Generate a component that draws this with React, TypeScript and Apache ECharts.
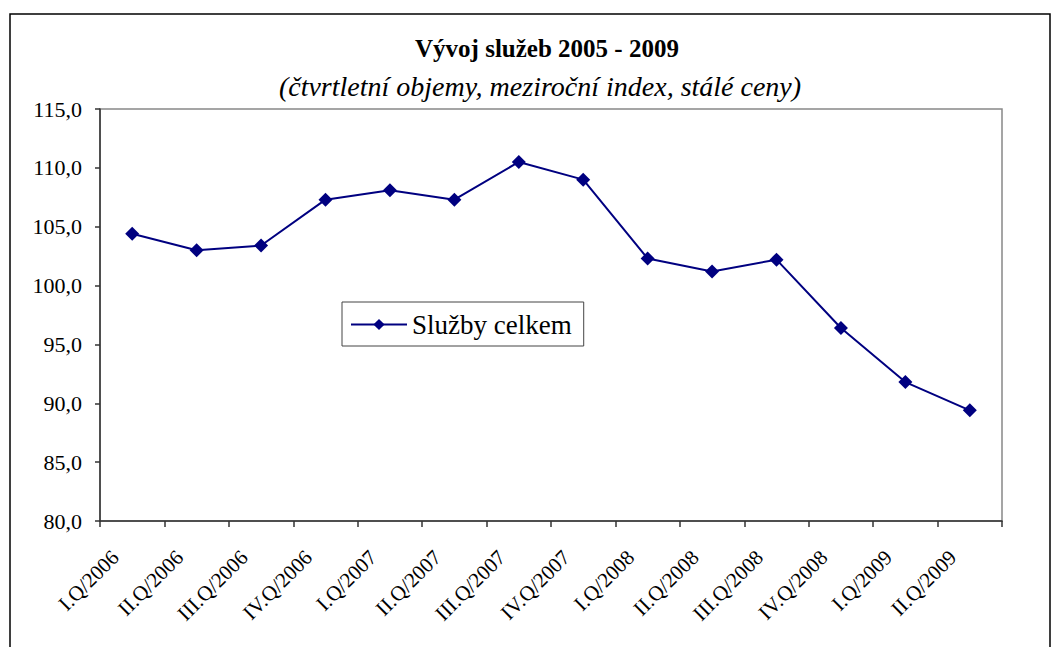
import React, { useEffect, useRef } from "react";
import * as echarts from "echarts";

const categories = [
  "I.Q/2006", "II.Q/2006", "III.Q/2006", "IV.Q/2006",
  "I.Q/2007", "II.Q/2007", "III.Q/2007", "IV.Q/2007",
  "I.Q/2008", "II.Q/2008", "III.Q/2008", "IV.Q/2008",
  "I.Q/2009", "II.Q/2009",
];
const sluzbyCelkem = [104.4, 103.0, 103.4, 107.3, 108.1, 107.3, 110.5, 109.0, 102.3, 101.2, 102.2, 96.4, 91.8, 89.4];
const seriesName = "Služby celkem";
const titleText = "Vývoj služeb 2005 - 2009";
const subtitleText = "(čtvrtletní objemy, meziroční index, stálé ceny)";

const FONT = "'Liberation Serif', 'Times New Roman', serif";

export default function App() {
  const ref = useRef<HTMLDivElement>(null);
  useEffect(() => {
    if (!ref.current) return;
    const chart = echarts.init(ref.current, undefined, { renderer: "svg" });
    chart.setOption({
      animation: false,
      backgroundColor: "#fff",
      title: [
        {
          text: titleText,
          left: 542,
          top: 31,
          textAlign: "center",
          textStyle: { fontFamily: FONT, fontSize: 25, fontWeight: "bold", color: "#000" },
        },
        {
          text: subtitleText,
          left: 535,
          top: 67,
          textAlign: "center",
          textStyle: { fontFamily: FONT, fontSize: 28, fontStyle: "italic", fontWeight: "normal", color: "#000" },
        },
      ],
      graphic: [
        {
          type: "rect",
          shape: { x: 10, y: 14, width: 1040, height: 700 },
          style: { fill: "none", stroke: "#000", lineWidth: 1.5 },
          silent: true,
        },
      ],
      legend: {
        left: 342,
        top: 302,
        orient: "vertical",
        borderColor: "#444",
        borderWidth: 1,
        padding: [9, 12, 8, 8],
        itemWidth: 56,
        itemHeight: 14,
        itemGap: 0,
        textStyle: { fontFamily: FONT, fontSize: 27, color: "#000" },
        data: [seriesName],
      },
      grid: { left: 100, right: 61, top: 109, bottom: 126, show: true, borderColor: "#888", borderWidth: 1.5 },
      xAxis: {
        type: "category",
        data: categories,
        boundaryGap: true,
        axisLine: { lineStyle: { color: "#333", width: 1.5 } },
        axisTick: { show: true, length: 6, alignWithLabel: false, lineStyle: { color: "#333", width: 1.5 } },
        axisLabel: {
          rotate: 45,
          interval: 0,
          fontFamily: FONT,
          fontSize: 21,
          color: "#000",
          margin: 16,
          padding: [0, 24, 0, 0],
        },
        splitLine: { show: false },
      },
      yAxis: {
        type: "value",
        min: 80,
        max: 115,
        interval: 5,
        axisLine: { show: true, lineStyle: { color: "#333", width: 1.5 } },
        axisTick: { show: true, length: 5, lineStyle: { color: "#333", width: 1.5 } },
        axisLabel: {
          fontFamily: FONT,
          fontSize: 22,
          color: "#000",
          margin: 18,
          formatter: (v: number) => v.toFixed(1).replace(".", ","),
        },
        splitLine: { show: false },
      },
      series: [
        {
          name: seriesName,
          type: "line",
          data: sluzbyCelkem,
          symbol: "diamond",
          symbolSize: 14,
          lineStyle: { color: "#000080", width: 2 },
          itemStyle: { color: "#000080" },
        },
      ],
    });
    return () => chart.dispose();
  }, []);
  return (
    <div
      ref={ref}
      style={{ position: "fixed", left: 0, top: 0, width: 1063, height: 647 }}
    />
  );
}
